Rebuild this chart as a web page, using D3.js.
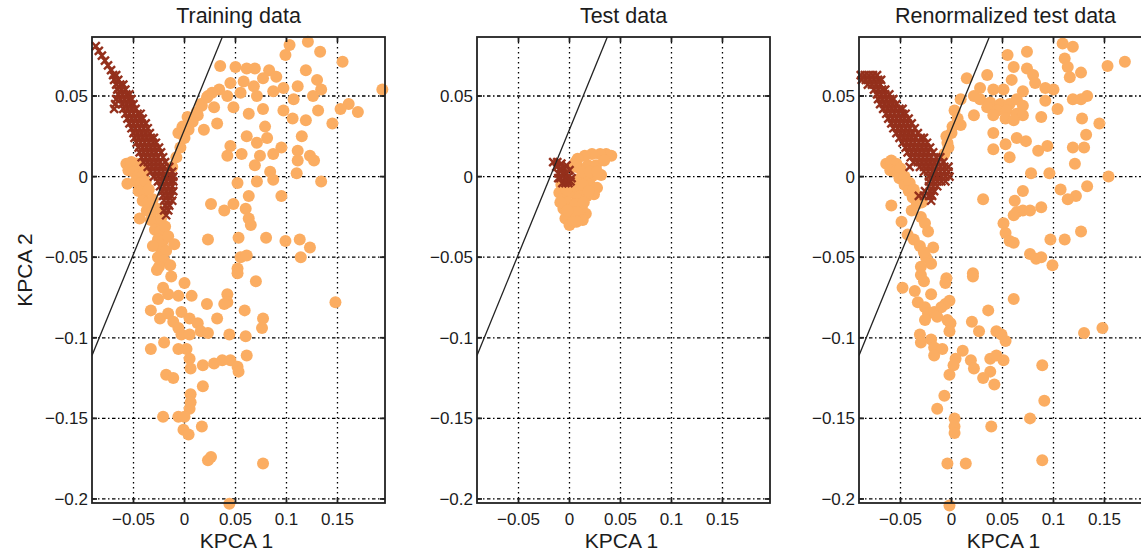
<!DOCTYPE html>
<html><head><meta charset="utf-8">
<script src="https://cdn.jsdelivr.net/npm/d3@7"></script>
<style>
body{margin:0;background:#fff;}
svg{display:block;font-family:"Liberation Sans",Arial,sans-serif;}
</style></head>
<body><svg id="c" width="1141" height="555"></svg>
<script>
// ---------------- data ----------------
const panelTitles = ["Training data", "Test data", "Renormalized test data"];
const xLabel = "KPCA 1";
const yLabel = "KPCA 2";
const xTicks = [-0.05, 0, 0.05, 0.1, 0.15];
const xTickLabels = ["\u22120.05", "0", "0.05", "0.1", "0.15"];
const yTicks = [0.05, 0, -0.05, -0.1, -0.15, -0.2];
const yTickLabels = ["0.05", "0", "\u22120.05", "\u22120.1", "\u22120.15", "\u22120.2"];
const xDomain = [-0.0907, 0.1966];
const yDomain = [-0.2025, 0.0866];
// separating line (two end points)
const boundaryX = [-0.0907, 0.0371];
const boundaryY = [-0.111, 0.0866];

// Training data, class 1 (orange circles)
const trainOrange = [
[0.103,0.0816],[0.121,0.0837],[0.133,0.0775],[0.099,0.0754],[0.155,0.0713],[0.194,0.054],[0.035,0.0686],[0.050,0.068],
[0.061,0.067],[0.069,0.067],[0.083,0.066],[0.090,0.062],[0.119,0.066],[0.130,0.060],[0.045,0.058],[0.058,0.059],
[0.068,0.056],[0.077,0.061],[0.097,0.055],[0.111,0.056],[0.134,0.054],[0.034,0.054],[0.023,0.050],[0.042,0.050],
[0.055,0.052],[0.071,0.050],[0.087,0.053],[0.107,0.048],[0.126,0.050],[0.161,0.045],[0.170,0.040],[0.153,0.042],
[0.016,0.045],[0.029,0.043],[0.048,0.043],[0.063,0.039],[0.077,0.042],[0.097,0.041],[0.106,0.036],[0.131,0.041],
[0.119,0.035],[0.145,0.033],[0.003,0.037],[0.013,0.038],[0.032,0.033],[0.019,0.029],[-0.002,0.031],[-0.006,0.027],
[0.079,0.031],[0.115,0.025],[0.061,0.025],[0.071,0.021],[0.081,0.024],[0.045,0.019],[0.095,0.018],[0.042,0.013],
[0.056,0.014],[0.074,0.013],[0.087,0.014],[0.111,0.016],[0.123,0.013],[0.127,0.010],[0.111,0.010],[0.069,0.007],
[0.084,0.003],[0.110,0.002],[0.087,-0.002],[0.071,-0.003],[0.134,-0.003],[0.052,-0.004],[0.063,-0.012],[0.095,-0.012],
[0.048,-0.017],[0.060,-0.020],[0.026,-0.017],[0.039,-0.021],[0.063,-0.026],[0.065,-0.030],[0.023,-0.039],[0.053,-0.038],
[0.080,-0.038],[0.099,-0.040],[0.113,-0.039],[0.123,-0.044],[0.114,-0.050],[0.055,-0.050],[0.061,-0.049],[0.052,-0.057],
[-0.012,0.006],[-0.008,0.012],[-0.004,0.018],[0.000,0.024],[0.004,0.029],[0.008,0.034],[0.012,0.040],[0.017,0.044],
[0.022,0.049],[0.027,0.052],
[-0.057,0.008],[-0.052,0.009],[-0.047,0.008],[-0.043,0.006],[-0.055,0.004],[-0.050,0.003],[-0.045,0.001],[-0.040,0.002],
[-0.048,-0.003],[-0.043,-0.004],[-0.038,-0.003],[-0.045,-0.009],[-0.040,-0.010],[-0.035,-0.008],[-0.041,-0.015],[-0.036,-0.016],
[-0.031,-0.014],[-0.037,-0.021],[-0.032,-0.022],[-0.027,-0.020],[-0.033,-0.027],[-0.028,-0.028],[-0.023,-0.026],[-0.029,-0.033],
[-0.024,-0.034],[-0.019,-0.031],[-0.026,-0.039],[-0.021,-0.040],[-0.016,-0.037],[-0.023,-0.045],[-0.018,-0.046],[-0.010,-0.042],
[-0.031,-0.043],[-0.026,-0.050],[-0.020,-0.052],[-0.014,-0.055],[-0.025,-0.056],[-0.056,-0.0045],[-0.044,-0.026],
[-0.027,-0.058],[-0.013,-0.062],[0.000,-0.066],[-0.021,-0.069],[0.052,-0.060],[0.070,-0.065],[-0.026,-0.076],[-0.016,-0.073],
[-0.006,-0.074],[0.007,-0.074],[0.022,-0.079],[0.042,-0.073],[0.042,-0.078],[0.039,-0.079],[0.148,-0.078],[-0.033,-0.083],
[-0.024,-0.088],[-0.016,-0.085],[-0.003,-0.084],[0.005,-0.088],[0.013,-0.091],[0.032,-0.088],[0.059,-0.083],[0.077,-0.088],
[0.076,-0.094],[-0.011,-0.090],[-0.006,-0.094],[-0.003,-0.098],[0.005,-0.098],[0.016,-0.096],[0.023,-0.097],[0.044,-0.098],
[0.060,-0.099],[-0.033,-0.107],[-0.020,-0.103],[-0.006,-0.107],[0.002,-0.107],[0.061,-0.111],[0.005,-0.113],[0.006,-0.119],
[0.018,-0.117],[0.029,-0.116],[0.037,-0.114],[0.045,-0.114],[0.052,-0.118],[0.053,-0.121],[-0.018,-0.123],[-0.011,-0.125],
[0.018,-0.130],[0.006,-0.135],[0.006,-0.140],[0.005,-0.144],[-0.021,-0.149],[-0.006,-0.149],[0.000,-0.149],[-0.001,-0.157],
[0.004,-0.160],[0.017,-0.155],[0.023,-0.176],[0.026,-0.174],[0.077,-0.178],[0.044,-0.203]
];

// Training data, class 2 (dark crosses)
const trainDark = [
[-0.087,0.081],[-0.084,0.078],[-0.081,0.075],[-0.078,0.072],[-0.075,0.069],[-0.072,0.066],[-0.070,0.063],[-0.067,0.063],
[-0.069,0.060],[-0.065,0.060],[-0.067,0.057],[-0.063,0.057],[-0.060,0.057],[-0.066,0.054],[-0.062,0.054],[-0.058,0.054],
[-0.065,0.051],[-0.061,0.051],[-0.057,0.051],[-0.054,0.051],[-0.067,0.048],[-0.063,0.048],[-0.059,0.048],[-0.055,0.048],
[-0.052,0.048],[-0.068,0.045],[-0.061,0.045],[-0.057,0.045],[-0.053,0.045],[-0.050,0.045],[-0.069,0.042],[-0.060,0.042],
[-0.056,0.042],[-0.052,0.042],[-0.048,0.042],[-0.058,0.039],[-0.054,0.039],[-0.050,0.039],[-0.046,0.039],[-0.043,0.039],
[-0.056,0.036],[-0.052,0.036],[-0.048,0.036],[-0.044,0.036],[-0.041,0.036],[-0.054,0.033],[-0.050,0.033],[-0.046,0.033],
[-0.042,0.033],[-0.038,0.033],[-0.052,0.030],[-0.048,0.030],[-0.044,0.030],[-0.040,0.030],[-0.036,0.030],[-0.050,0.027],
[-0.046,0.027],[-0.042,0.027],[-0.038,0.027],[-0.034,0.027],[-0.049,0.024],[-0.045,0.024],[-0.041,0.024],[-0.037,0.024],
[-0.033,0.024],[-0.030,0.024],[-0.047,0.021],[-0.043,0.021],[-0.039,0.021],[-0.035,0.021],[-0.031,0.021],[-0.028,0.021],
[-0.045,0.018],[-0.041,0.018],[-0.037,0.018],[-0.033,0.018],[-0.029,0.018],[-0.025,0.018],[-0.044,0.015],[-0.040,0.015],
[-0.036,0.015],[-0.032,0.015],[-0.028,0.015],[-0.023,0.015],[-0.042,0.012],[-0.038,0.012],[-0.034,0.012],[-0.030,0.012],
[-0.026,0.012],[-0.021,0.012],[-0.040,0.009],[-0.036,0.009],[-0.032,0.009],[-0.028,0.009],[-0.024,0.009],[-0.019,0.009],
[-0.036,0.006],[-0.032,0.006],[-0.028,0.006],[-0.024,0.006],[-0.020,0.006],[-0.015,0.006],[-0.033,0.003],[-0.029,0.003],
[-0.025,0.003],[-0.021,0.003],[-0.017,0.003],[-0.012,0.003],[-0.030,0.000],[-0.026,0.000],[-0.022,0.000],[-0.018,0.000],
[-0.014,0.000],[-0.011,0.000],[-0.026,-0.003],[-0.022,-0.003],[-0.018,-0.003],[-0.014,-0.003],[-0.011,-0.003],[-0.024,-0.006],
[-0.020,-0.006],[-0.016,-0.006],[-0.012,-0.006],[-0.022,-0.009],[-0.018,-0.009],[-0.014,-0.009],[-0.011,-0.009],[-0.021,-0.012],
[-0.017,-0.012],[-0.013,-0.012],[-0.020,-0.015],[-0.016,-0.015],[-0.012,-0.015],[-0.019,-0.018],[-0.015,-0.018],[-0.020,-0.021],
[-0.016,-0.021],[-0.018,-0.024]
];

// Test data
const testOrange = [
[0.041,0.013],[0.036,0.014],[0.030,0.014],[0.022,0.014],[0.015,0.013],[0.008,0.011],[0.003,0.006],[0.010,0.005],
[0.018,0.007],[0.026,0.007],[0.031,0.001],[0.022,0.000],[0.015,-0.002],[0.008,-0.002],[0.000,-0.003],[-0.008,-0.005],
[-0.010,-0.010],[-0.006,-0.012],[0.002,-0.010],[0.010,-0.008],[0.020,-0.005],[0.027,-0.007],[0.024,-0.011],[0.017,-0.012],
[0.008,-0.014],[-0.002,-0.016],[-0.006,-0.020],[0.003,-0.020],[0.012,-0.019],[0.016,-0.023],[0.010,-0.024],[0.002,-0.025],
[-0.004,-0.026],[0.000,-0.030],[0.004,-0.028],
[0.006,0.009],[0.013,0.003],[0.020,0.003],[0.027,0.003],[0.004,-0.006],[0.013,-0.005],[-0.003,-0.008],[0.019,-0.009],
[0.006,-0.017],[0.014,-0.016],[-0.009,-0.016],[0.007,-0.022],[0.013,-0.027],[0.007,-0.028],[-0.002,-0.021],[0.034,0.010]
];
const testDark = [
[-0.016,0.009],[-0.012,0.009],[-0.008,0.008],[-0.013,0.006],[-0.009,0.005],[-0.005,0.005],[-0.011,0.002],[-0.007,0.002],
[-0.003,0.002],[-0.001,0.000],[-0.009,-0.001],[-0.005,-0.001],[-0.002,-0.003],[0.001,-0.003],[-0.007,-0.004],[-0.004,-0.004],
[-0.001,-0.004],[-0.011,-0.001],[-0.003,0.007],[0.000,0.004],[0.002,-0.001]
];

// Renormalized test data
const renormOrange = [
[0.109,0.0826],[0.119,0.0806],[0.074,0.0775],[0.055,0.0754],[0.170,0.0713],[0.153,0.0686],[0.111,0.0733],[0.114,0.068],
[0.127,0.0645],[0.116,0.0616],[0.061,0.068],[0.074,0.067],[0.080,0.063],[0.035,0.063],[0.015,0.061],[0.059,0.060],
[0.082,0.058],[0.092,0.055],[0.100,0.054],[0.028,0.055],[0.041,0.054],[0.051,0.054],[0.070,0.053],[0.119,0.048],
[0.133,0.050],[0.127,0.048],[0.092,0.047],[0.104,0.042],[0.022,0.050],[0.009,0.048],[0.028,0.048],[0.038,0.046],
[0.048,0.045],[0.057,0.045],[0.064,0.048],[0.070,0.044],[0.035,0.043],[0.045,0.041],[0.054,0.041],[0.064,0.039],
[0.070,0.038],[0.022,0.038],[0.041,0.038],[0.053,0.036],[0.061,0.035],[0.003,0.041],[0.006,0.036],[0.001,0.031],
[0.000,0.027],[0.009,0.032],[-0.005,0.025],[-0.004,0.021],[-0.007,0.014],[-0.003,0.018],[0.088,0.037],[0.128,0.036],
[0.145,0.033],[0.041,0.027],[0.053,0.020],[0.064,0.024],[0.073,0.022],[0.041,0.017],[0.057,0.012],[0.085,0.016],
[0.094,0.019],[0.132,0.026],[0.119,0.018],[0.130,0.018],[0.121,0.008],[0.154,0.000],[0.078,0.002],[0.096,0.002],
[0.070,-0.009],[0.107,-0.008],[0.133,-0.006],[0.122,-0.012],[0.114,-0.014],[0.031,-0.014],[0.062,-0.015],[0.064,-0.022],
[0.070,-0.021],[0.077,-0.021],[0.088,-0.019],[0.061,-0.024],[0.051,-0.029],[0.053,-0.035],[0.057,-0.040],[0.061,-0.041],
[0.127,-0.034],[0.097,-0.039],[0.111,-0.039],[0.077,-0.048],[0.083,-0.051],[0.088,-0.050],[0.099,-0.055],[0.021,-0.060],
[-0.005,-0.063],
[-0.064,0.008],[-0.059,0.010],[-0.054,0.008],[-0.060,0.004],[-0.055,0.003],[-0.050,0.005],[-0.051,-0.001],[-0.046,0.000],
[-0.046,-0.005],[-0.041,-0.004],[-0.042,-0.009],[-0.037,-0.008],[-0.038,-0.013],[-0.033,-0.012],[-0.034,-0.017],[-0.029,-0.016],
[-0.059,-0.018],[-0.049,-0.028],[-0.039,-0.021],[-0.030,-0.025],[-0.026,-0.029],[-0.023,-0.034],[-0.043,-0.036],[-0.037,-0.039],
[-0.031,-0.043],[-0.018,-0.044],[-0.025,-0.050],[-0.020,-0.054],[-0.030,-0.056],[-0.027,-0.047],
[-0.030,-0.061],[-0.027,-0.065],[-0.006,-0.066],[0.021,-0.062],[-0.048,-0.069],[-0.036,-0.071],[-0.020,-0.073],[-0.033,-0.078],
[-0.026,-0.081],[-0.023,-0.085],[-0.017,-0.084],[-0.010,-0.081],[-0.006,-0.079],[-0.002,-0.077],[-0.026,-0.089],[-0.014,-0.087],
[-0.004,-0.089],[-0.001,-0.091],[-0.002,-0.096],[0.061,-0.076],[0.036,-0.083],[0.020,-0.090],[0.027,-0.096],[0.044,-0.096],
[0.049,-0.098],[0.053,-0.102],[-0.031,-0.098],[-0.030,-0.103],[-0.020,-0.101],[-0.017,-0.106],[-0.009,-0.107],[-0.017,-0.111],
[0.011,-0.108],[0.004,-0.113],[0.002,-0.117],[0.019,-0.114],[0.022,-0.119],[0.038,-0.113],[0.044,-0.111],[0.051,-0.114],
[0.038,-0.121],[0.031,-0.125],[0.042,-0.129],[-0.002,-0.123],[0.089,-0.117],[0.130,-0.097],[0.148,-0.094],[-0.007,-0.136],
[-0.014,-0.144],[0.003,-0.150],[0.003,-0.155],[0.003,-0.159],[0.039,-0.155],[0.091,-0.139],[0.077,-0.150],[0.089,-0.176],
[-0.004,-0.178],[0.014,-0.178],[-0.002,-0.204]
];
const renormDark = [
[-0.089,0.063],[-0.085,0.063],[-0.081,0.063],[-0.077,0.063],[-0.073,0.063],[-0.088,0.060],[-0.084,0.060],[-0.080,0.060],
[-0.076,0.060],[-0.072,0.060],[-0.069,0.060],[-0.082,0.057],[-0.078,0.057],[-0.074,0.057],[-0.070,0.057],[-0.076,0.054],
[-0.072,0.054],[-0.068,0.054],[-0.065,0.054],[-0.073,0.051],[-0.069,0.051],[-0.065,0.051],[-0.061,0.051],[-0.072,0.048],
[-0.068,0.048],[-0.064,0.048],[-0.060,0.048],[-0.057,0.048],[-0.070,0.045],[-0.066,0.045],[-0.062,0.045],[-0.058,0.045],
[-0.054,0.045],[-0.067,0.042],[-0.063,0.042],[-0.059,0.042],[-0.055,0.042],[-0.051,0.042],[-0.048,0.042],[-0.064,0.039],
[-0.060,0.039],[-0.056,0.039],[-0.052,0.039],[-0.048,0.039],[-0.045,0.039],[-0.062,0.036],[-0.058,0.036],[-0.054,0.036],
[-0.050,0.036],[-0.046,0.036],[-0.042,0.036],[-0.059,0.033],[-0.055,0.033],[-0.051,0.033],[-0.047,0.033],[-0.043,0.033],
[-0.039,0.033],[-0.057,0.030],[-0.053,0.030],[-0.049,0.030],[-0.045,0.030],[-0.041,0.030],[-0.036,0.030],[-0.054,0.027],
[-0.050,0.027],[-0.046,0.027],[-0.042,0.027],[-0.038,0.027],[-0.033,0.027],[-0.051,0.024],[-0.047,0.024],[-0.043,0.024],
[-0.039,0.024],[-0.035,0.024],[-0.030,0.024],[-0.027,0.024],[-0.048,0.021],[-0.044,0.021],[-0.040,0.021],[-0.036,0.021],
[-0.032,0.021],[-0.028,0.021],[-0.024,0.021],[-0.045,0.018],[-0.041,0.018],[-0.037,0.018],[-0.033,0.018],[-0.029,0.018],
[-0.025,0.018],[-0.021,0.018],[-0.043,0.015],[-0.039,0.015],[-0.035,0.015],[-0.031,0.015],[-0.027,0.015],[-0.023,0.015],
[-0.018,0.015],[-0.040,0.012],[-0.036,0.012],[-0.032,0.012],[-0.028,0.012],[-0.024,0.012],[-0.020,0.012],[-0.015,0.012],
[-0.011,0.012],[-0.037,0.009],[-0.033,0.009],[-0.029,0.009],[-0.025,0.009],[-0.021,0.009],[-0.017,0.009],[-0.013,0.009],
[-0.008,0.009],[-0.041,0.006],[-0.031,0.006],[-0.027,0.006],[-0.023,0.006],[-0.019,0.006],[-0.015,0.006],[-0.011,0.006],
[-0.007,0.006],[-0.003,0.006],[-0.027,0.003],[-0.023,0.003],[-0.019,0.003],[-0.015,0.003],[-0.011,0.003],[-0.007,0.003],
[-0.003,0.003],[-0.022,0.000],[-0.018,0.000],[-0.014,0.000],[-0.010,0.000],[-0.006,0.000],[-0.002,0.000],[-0.022,-0.003],
[-0.018,-0.003],[-0.014,-0.003],[-0.010,-0.003],[-0.006,-0.003],[-0.022,-0.006],[-0.018,-0.006],[-0.014,-0.006],[-0.026,-0.009],
[-0.021,-0.009],[-0.017,-0.009],[-0.032,-0.012],[-0.027,-0.012],[-0.022,-0.012],[-0.019,-0.012],[-0.020,-0.015]
];

const panelOrange = [trainOrange, testOrange, renormOrange];
const panelDark = [trainDark, testDark, renormDark];

// ---------------- drawing ----------------
const ORANGE = "#FBAD62", DARK = "#94301C", INK = "#1c1c1c";
const svg = d3.select("#c");
const panelLeft = [92, 477, 859];
const pw = 293, pTop = 37, pBottom = 503;

const yS = d3.scaleLinear().domain(yDomain).range([pBottom, pTop]);

panelLeft.forEach((left, i) => {
  const xS = d3.scaleLinear().domain(xDomain).range([left, left + pw]);
  const g = svg.append("g");

  g.append("clipPath").attr("id", "clip" + i)
    .append("rect").attr("x", left).attr("y", pTop).attr("width", pw).attr("height", pBottom - pTop);

  // grid
  g.append("g").selectAll("line").data(xTicks).join("line")
    .attr("x1", d => xS(d)).attr("x2", d => xS(d)).attr("y1", pTop).attr("y2", pBottom)
    .attr("stroke", "#000").attr("stroke-width", 1.3).attr("stroke-dasharray", "1.5,3.5");
  g.append("g").selectAll("line").data(yTicks).join("line")
    .attr("y1", d => yS(d)).attr("y2", d => yS(d)).attr("x1", left).attr("x2", left + pw)
    .attr("stroke", "#000").attr("stroke-width", 1.3).attr("stroke-dasharray", "3.5,2.5,1.5,2.5");

  // points
  g.append("g").selectAll("circle").data(panelOrange[i]).join("circle")
    .attr("cx", d => xS(d[0])).attr("cy", d => yS(d[1])).attr("r", 6).attr("fill", ORANGE);
  g.append("g").selectAll("path").data(panelDark[i]).join("path")
    .attr("transform", d => `translate(${xS(d[0])},${yS(d[1])})`)
    .attr("d", "M-4,-4L4,4M-4,4L4,-4")
    .attr("stroke", DARK).attr("stroke-width", 2.4).attr("fill", "none");

  // boundary line
  g.append("line").attr("clip-path", `url(#clip${i})`)
    .attr("x1", xS(boundaryX[0])).attr("y1", yS(boundaryY[0]))
    .attr("x2", xS(boundaryX[1])).attr("y2", yS(boundaryY[1]))
    .attr("stroke", "#222").attr("stroke-width", 1.3);

  // frame
  g.append("rect").attr("x", left).attr("y", pTop).attr("width", pw).attr("height", pBottom - pTop)
    .attr("fill", "none").attr("stroke", "#222").attr("stroke-width", 1.8);

  // ticks (inward, all sides)
  const tl = 5;
  xTicks.forEach(t => {
    g.append("line").attr("x1", xS(t)).attr("x2", xS(t)).attr("y1", pBottom).attr("y2", pBottom - tl).attr("stroke", "#222").attr("stroke-width", 1.8);
    g.append("line").attr("x1", xS(t)).attr("x2", xS(t)).attr("y1", pTop).attr("y2", pTop + tl).attr("stroke", "#222").attr("stroke-width", 1.8);
  });
  yTicks.forEach(t => {
    g.append("line").attr("y1", yS(t)).attr("y2", yS(t)).attr("x1", left).attr("x2", left + tl).attr("stroke", "#222").attr("stroke-width", 1.8);
    g.append("line").attr("y1", yS(t)).attr("y2", yS(t)).attr("x1", left + pw).attr("x2", left + pw - tl).attr("stroke", "#222").attr("stroke-width", 1.8);
  });

  // tick labels
  g.append("g").selectAll("text").data(xTicks).join("text")
    .attr("x", d => xS(d)).attr("y", 525).attr("text-anchor", "middle")
    .attr("font-size", 17).attr("fill", INK)
    .text((d, k) => xTickLabels[k]);
  g.append("g").selectAll("text").data(yTicks).join("text")
    .attr("x", left - 4).attr("y", d => yS(d)).attr("dy", "0.36em").attr("text-anchor", "end")
    .attr("font-size", 17).attr("fill", INK)
    .text((d, k) => yTickLabels[k]);

  // title & x label
  g.append("text").attr("x", left + pw / 2).attr("y", 23).attr("text-anchor", "middle")
    .attr("font-size", 21.5).attr("fill", INK).text(panelTitles[i]);
  g.append("text").attr("x", left + pw / 2 - 2).attr("y", 548).attr("text-anchor", "middle")
    .attr("font-size", 21).attr("fill", INK).text(xLabel);
});

svg.append("text").attr("transform", "translate(32,270) rotate(-90)")
  .attr("text-anchor", "middle").attr("font-size", 21).attr("fill", INK).text(yLabel);
</script>
</body></html>
